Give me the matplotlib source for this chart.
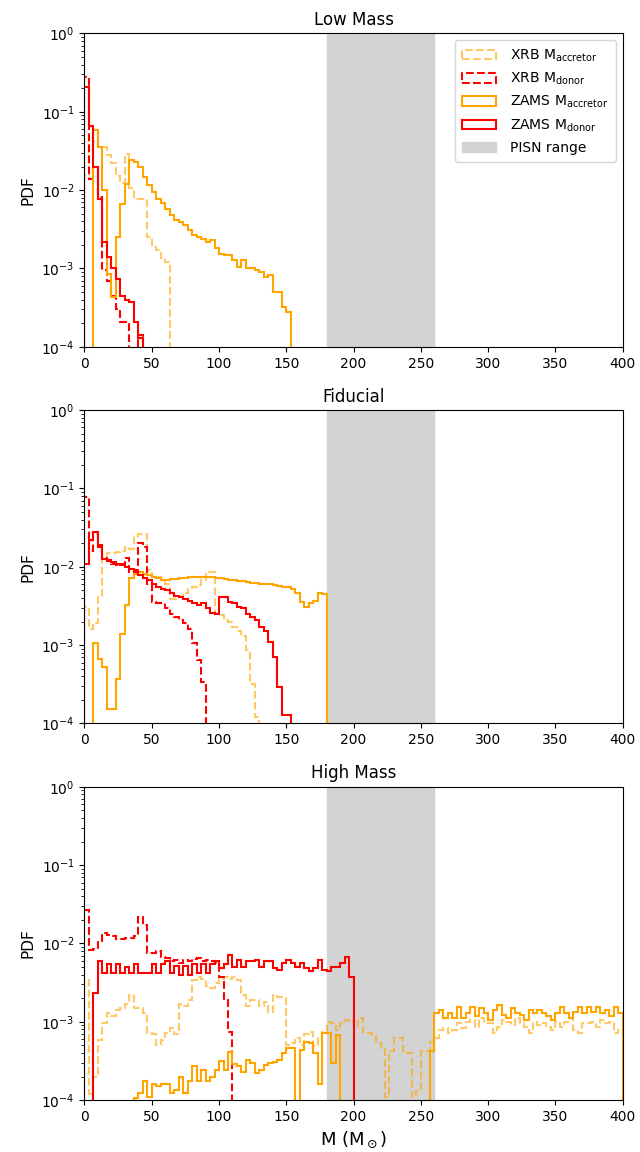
"""Mass distributions of XRB and ZAMS components for three IMF variants."""
import numpy as np
import matplotlib

matplotlib.use("Agg")
import matplotlib.pyplot as plt  # noqa: E402


N_BINS = 120
EDGES = np.linspace(0, 400, N_BINS + 1)
PISN_RANGE = (180, 260)

PANEL_TITLES = ["Low Mass", "Fiducial", "High Mass"]
SERIES_LABELS = [r"XRB M$_{\rm accretor}$", r"XRB M$_{\rm donor}$",
                 r"ZAMS M$_{\rm accretor}$", r"ZAMS M$_{\rm donor}$"]

# PDF per bin (bins of width 400/120, starting at 0)
low_xrb_acc = [0.015, 0.05, 0.042, 0.036, 0.036, 0.028, 0.022, 0.015, 0.0125, 0.029,
               0.0105, 0.0078, 0.0078, 0.0078, 0.0025, 0.0019, 0.0017, 0.00134, 0.0012]
low_xrb_don = [0.28, 0.014, 0.02, 0.0082, 0.00095, 0.0007, 0.00044, 0.0003, 0.00021, 0.00021,
               0.0, 0.0, 0.00014]
low_zams_acc = [0.0, 0.0, 0.058, 0.036, 0.010, 0.00086, 0.00043, 0.0025, 0.0067, 0.012,
                0.024, 0.023, 0.020, 0.0148, 0.0116, 0.0095, 0.0078, 0.0068, 0.0058, 0.0048,
                0.0042, 0.0039, 0.0036, 0.0031, 0.0027, 0.0025, 0.0024, 0.0022, 0.0023, 0.0018,
                0.00155, 0.00148, 0.00148, 0.00128, 0.00105, 0.00128, 0.0010, 0.0010, 0.00095, 0.00091,
                0.00078, 0.00082, 0.0005, 0.0005, 0.00032, 0.00028]
low_zams_don = [0.21, 0.065, 0.020, 0.0078, 0.0022, 0.0014, 0.0010, 0.00074, 0.00045, 0.0004,
                0.00037, 0.00021, 0.00013]

fid_xrb_acc = [0.0031, 0.0016, 0.0019, 0.0041, 0.0134, 0.015, 0.015, 0.0156, 0.016, 0.018,
               0.017, 0.025, 0.026, 0.026, 0.0091, 0.0074, 0.0074, 0.0067, 0.0061, 0.0039,
               0.0039, 0.0041, 0.0046, 0.0053, 0.0055, 0.0058, 0.0067, 0.0085, 0.0085, 0.0025,
               0.0024, 0.0021, 0.0020, 0.0017, 0.0015, 0.0013, 0.00086, 0.00032, 0.00012]
fid_xrb_don = [0.078, 0.016, 0.026, 0.018, 0.013, 0.012, 0.011, 0.0105, 0.011, 0.013,
               0.0085, 0.009, 0.020, 0.018, 0.006, 0.0036, 0.0035, 0.0034, 0.003, 0.0025,
               0.0023, 0.0021, 0.0019, 0.0016, 0.00105, 0.00064, 0.00034]
fid_zams_acc = [0.0, 0.0, 0.00105, 0.00067, 0.00053, 0.000155, 0.000155, 0.00037, 0.0014, 0.0033,
                0.0071, 0.0082, 0.0085, 0.0082, 0.0078, 0.0074, 0.0071, 0.0068, 0.0067, 0.0069,
                0.0070, 0.0071, 0.0072, 0.0073, 0.0073, 0.0074, 0.0075, 0.0075, 0.0074, 0.0072,
                0.0071, 0.0070, 0.0068, 0.0067, 0.0066, 0.0065, 0.0064, 0.0063, 0.0062, 0.0061,
                0.0061, 0.0060, 0.0059, 0.0057, 0.0056, 0.0055, 0.0052, 0.0046, 0.0036, 0.0031,
                0.0034, 0.0037, 0.0046, 0.0045]
fid_zams_don = [0.011, 0.022, 0.028, 0.019, 0.0125, 0.0121, 0.0116, 0.011, 0.0105, 0.010,
                0.0095, 0.0086, 0.0078, 0.0072, 0.0067, 0.0061, 0.0056, 0.0052, 0.0050, 0.0046,
                0.0043, 0.0041, 0.0039, 0.0037, 0.0034, 0.0033, 0.0035, 0.0030, 0.0026, 0.0025,
                0.0041, 0.0041, 0.0036, 0.0034, 0.0031, 0.0030, 0.0025, 0.0023, 0.0021, 0.0017,
                0.0015, 0.0011, 0.00071, 0.00029, 0.000127, 0.000127]

hi_xrb_acc = [0.0034, 0.00012, 0.0002, 0.00059, 0.00096, 0.0013, 0.0012, 0.0014, 0.0015, 0.0017,
              0.0022, 0.0015, 0.0015, 0.0013, 0.00073, 0.0007, 0.00051, 0.00059, 0.00073, 0.00083,
              0.0007, 0.0017, 0.0016, 0.0019, 0.0034, 0.0037, 0.0035, 0.0029, 0.0027, 0.0031,
              0.0035, 0.0037, 0.0035, 0.0037, 0.0034, 0.0022, 0.0016, 0.0019, 0.0019, 0.0016,
              0.0018, 0.00135, 0.0022, 0.0021, 0.0021, 0.00051, 0.00053, 0.00063, 0.00051, 0.0007,
              0.00075, 0.00049, 0.00063, 0.00075, 0.0010, 0.00096, 0.00079, 0.00096, 0.00106, 0.0010,
              0.00087, 0.00111, 0.00075, 0.00071, 0.00068, 0.00053, 0.00046, 0.00011, 0.00042, 0.00062,
              0.00062, 0.00043, 0.0004, 0.00011, 0.00013, 0.00042, 0.00043, 0.00055, 0.00062, 0.00079,
              0.00083, 0.00071, 0.00079, 0.00096, 0.00083, 0.0010, 0.00106, 0.00087, 0.00111, 0.00096,
              0.00096, 0.00071, 0.00087, 0.00106, 0.0010, 0.00091, 0.00111, 0.00096, 0.00087, 0.00071,
              0.0010, 0.00091, 0.00096, 0.00087, 0.00079, 0.0010, 0.00087, 0.0010, 0.00111, 0.00079,
              0.00071, 0.00096, 0.00096, 0.0010, 0.00087, 0.00106, 0.00096, 0.0010, 0.00071, 0.00079]
hi_xrb_don = [0.027, 0.0083, 0.0085, 0.0106, 0.0135, 0.013, 0.0124, 0.0113, 0.0113, 0.0117,
              0.0117, 0.0124, 0.022, 0.017, 0.0075, 0.0075, 0.0079, 0.0068, 0.0065, 0.0059,
              0.0062, 0.0056, 0.0062, 0.0059, 0.0063, 0.0065, 0.0059, 0.0062, 0.0059, 0.0056,
              0.0037, 0.0019, 0.00075]
hi_zams_acc = ([0.0] * 11 +
               [0.000107, 0.000122, 0.000175, 0.00011, 0.00016, 0.00015, 0.00016, 0.00016, 0.000122,
                0.000135, 0.0002, 0.000122, 0.000175, 0.00027, 0.000175, 0.00024, 0.000175, 0.0002,
                0.00024, 0.00032, 0.00024, 0.00041, 0.00029, 0.00027, 0.00023, 0.00033, 0.0003,
                0.00022, 0.00024, 0.00028, 0.0003, 0.00031, 0.00033, 0.0004, 0.00046, 0.00046, 0.0,
                0.00044, 0.00056, 0.00054, 0.0004, 0.00016, 0.00071, 0.00073, 0.0003, 0.00068] +
               [0.0] * 20 +
               [0.00042, 0.0013, 0.00142, 0.00111, 0.0013, 0.00111, 0.00156, 0.00111, 0.0013, 0.00156,
                0.00117, 0.00149, 0.0013, 0.00106, 0.00142, 0.00164, 0.00122, 0.00111, 0.00149, 0.0013,
                0.00122, 0.00106, 0.00142, 0.0013, 0.00142, 0.0013, 0.00117, 0.00106, 0.0013, 0.00156,
                0.0013, 0.00111, 0.00135, 0.00156, 0.0013, 0.00156, 0.00135, 0.00156, 0.0013, 0.00142,
                0.00117, 0.00156, 0.0013])
hi_zams_don = [0.0, 0.0, 0.0023, 0.0059, 0.0042, 0.0055, 0.0042, 0.0055, 0.0042, 0.005,
               0.0042, 0.0055, 0.0042, 0.0042, 0.0042, 0.0055, 0.0042, 0.0055, 0.0059, 0.0042,
               0.0052, 0.0040, 0.0052, 0.0040, 0.0055, 0.0042, 0.0055, 0.0042, 0.0055, 0.0059,
               0.0048, 0.0055, 0.0072, 0.005, 0.0062, 0.005, 0.0059, 0.0059, 0.0062, 0.005,
               0.0059, 0.0059, 0.0049, 0.0046, 0.0056, 0.0062, 0.0056, 0.005, 0.0056, 0.0049,
               0.0045, 0.0049, 0.0062, 0.0046, 0.0045, 0.005, 0.005, 0.0056, 0.0068, 0.0037]

PANELS = [
    (low_xrb_acc, low_xrb_don, low_zams_acc, low_zams_don),
    (fid_xrb_acc, fid_xrb_don, fid_zams_acc, fid_zams_don),
    (hi_xrb_acc, hi_xrb_don, hi_zams_acc, hi_zams_don),
]

STYLES = [
    dict(color="orange", alpha=0.6, ls="--"),
    dict(color="red", ls="--"),
    dict(color="orange", ls="-"),
    dict(color="red", ls="-"),
]


def _pad(vals):
    out = np.zeros(N_BINS)
    out[:len(vals)] = vals
    return out


def main():
    centers = 0.5 * (EDGES[:-1] + EDGES[1:])
    fig, axes = plt.subplots(3, 1, figsize=(6.4, 11.52), dpi=100)
    fig.subplots_adjust(left=0.132, right=0.973, top=0.971, bottom=0.045, hspace=0.202)

    for i, (ax, title, series) in enumerate(zip(axes, PANEL_TITLES, PANELS)):
        for vals, label, style in zip(series, SERIES_LABELS, STYLES):
            ax.hist(centers, bins=EDGES, weights=_pad(vals), histtype="step",
                    log=True, lw=1.5, label=label, **style)
        ax.axvspan(*PISN_RANGE, color="lightgray", zorder=0, label="PISN range")
        ax.set_xlim(0, 400)
        ax.set_ylim(1e-4, 1)
        ax.set_xticks(np.arange(0, 401, 50))
        ax.set_title(title, fontsize=12)
        ax.set_ylabel("PDF", fontsize=11)
        if i == 0:
            ax.legend(loc="upper right", handlelength=2.5, handletextpad=1.0,
                      borderpad=0.5)
    axes[-1].set_xlabel(r"M (M$_\odot$)", fontsize=13)

    fig.savefig("out.png", dpi=100)
    plt.close(fig)


if __name__ == "__main__":
    main()
